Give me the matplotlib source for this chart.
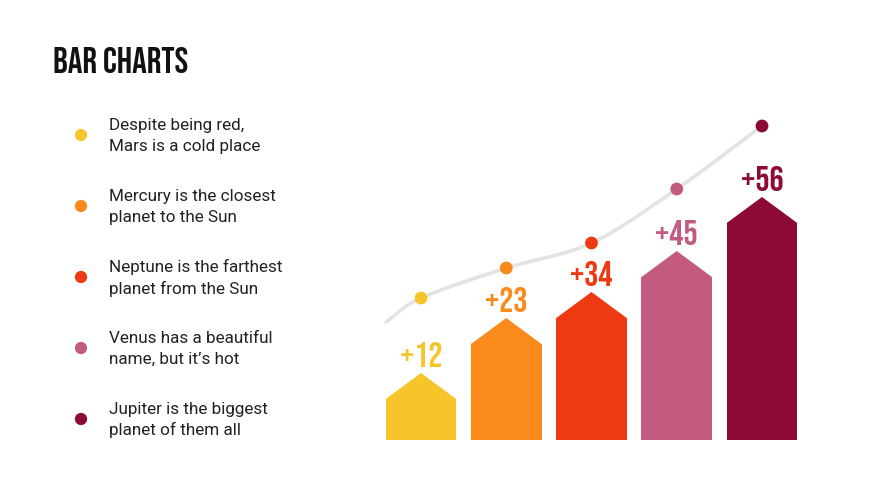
import numpy as np
import matplotlib
matplotlib.use("Agg")
import matplotlib.pyplot as plt

# ---- data ----
labels = ["+12", "+23", "+34", "+45", "+56"]
values = [12, 23, 34, 45, 56]
bar_heights = [41, 96, 122, 163, 217]          # drawn height of bar body (chart units)
dot_heights = [142, 172, 197, 251, 314]        # trend dots (chart units)
colors = ["#F6C52C", "#FB8A1D", "#EE3A13", "#C35B80", "#8E0A36"]
legend_texts = [
    "Despite being red,\nMars is a cold place",
    "Mercury is the closest\nplanet to the Sun",
    "Neptune is the farthest\nplanet from the Sun",
    "Venus has a beautiful\nname, but it\u2019s hot",
    "Jupiter is the biggest\nplanet of them all",
]
title = "BAR CHARTS"

head = ["Bebas Neue", "DejaVu Sans"]
body = ["Roboto", "DejaVu Sans"]

W, H = 870, 489
fig = plt.figure(figsize=(W / 100, H / 100), dpi=100)
fig.patch.set_facecolor("white")

bg = fig.add_axes([0, 0, 1, 1])
bg.set_xlim(0, W)
bg.set_ylim(H, 0)
bg.axis("off")

bg.text(53, 73, title, fontsize=26.3, family=head,
        color="#111111", ha="left", va="baseline")

leg_y = [136, 207, 278, 349, 420]
for y, c, t in zip(leg_y, colors, legend_texts):
    bg.scatter([81], [y], s=78, color=c, edgecolor="none")
    bg.text(109, y, t, fontsize=12.3, family=body, color="#222222",
            ha="left", va="center", linespacing=1.45)

x0, pitch = 421.0, 85.25
left_px = x0 - 0.5 * pitch
right_px = x0 + 4.5 * pitch
bottom_px, top_px = 441.0, 100.0
ax = fig.add_axes([left_px / W, (H - bottom_px) / H,
                   (right_px - left_px) / W, (bottom_px - top_px) / H])
ax.set_xlim(-0.5, 4.5)
ax.set_ylim(0, bottom_px - top_px)
ax.axis("off")

xs = np.arange(len(values))
bw = 0.827
roof = 26

px = np.array([-0.41] + list(xs), dtype=float)
py = np.array([118] + dot_heights, dtype=float)
P = np.column_stack([px, py])
P = np.vstack([P[0] - (P[1] - P[0]), P, P[-1] + (P[-1] - P[-2])])
cx, cy = [], []
for i in range(1, len(P) - 2):
    p0, p1, p2, p3 = P[i - 1], P[i], P[i + 1], P[i + 2]
    t = np.linspace(0, 1, 30)[:, None]
    seg = 0.5 * ((2 * p1) + (-p0 + p2) * t + (2 * p0 - 5 * p1 + 4 * p2 - p3) * t ** 2
                 + (-p0 + 3 * p1 - 3 * p2 + p3) * t ** 3)
    cx.extend(seg[:, 0]); cy.extend(seg[:, 1])
ax.plot(cx, cy, color="#E3E3E3", lw=2.6, solid_capstyle="round", zorder=1)
ax.scatter(xs, dot_heights, s=85, color=colors, edgecolor="none", zorder=3)

ax.bar(xs, bar_heights, width=bw, color=colors, zorder=2, linewidth=0)
for x, h, c, lab in zip(xs, bar_heights, colors, labels):
    ax.fill([x - bw / 2, x, x + bw / 2], [h, h + roof, h], color=c, lw=0, zorder=2)
    ax.text(x, h + roof + 7, lab, fontsize=25.5, family=head,
            color=c, ha="center", va="baseline", zorder=4)

fig.savefig("out.png", dpi=100, facecolor="white")
